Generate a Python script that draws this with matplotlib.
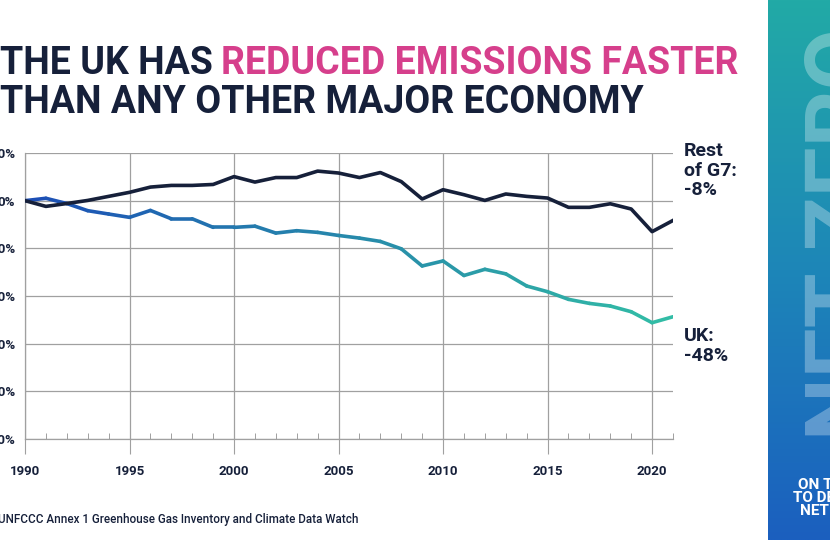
import numpy as np
import matplotlib
matplotlib.use("Agg")
import matplotlib.pyplot as plt
from matplotlib.collections import LineCollection
from matplotlib.colors import LinearSegmentedColormap
from matplotlib.ticker import MultipleLocator, FuncFormatter

# % change in greenhouse gas emissions since 1990
years = list(range(1990, 2022))
rest_g7 = [0, -2.4, -1.2, 0.1, 1.8, 3.5, 5.7, 6.4, 6.4, 6.8, 10.1, 7.8, 9.7, 9.7, 12.4, 11.6,
           9.7, 11.8, 8.0, 0.7, 4.6, 2.5, 0.1, 2.8, 1.8, 1.1, -2.8, -2.8, -1.3, -3.5, -13.0, -8.3]
uk = [0, 1.0, -1.2, -4.2, -5.6, -7.0, -4.1, -7.6, -7.6, -11.2, -11.2, -10.7, -13.6, -12.6, -13.3, -14.6,
      -15.7, -17.1, -20.2, -27.4, -25.3, -31.4, -28.8, -30.7, -35.8, -38.2, -41.4, -43.1, -44.2, -46.6, -51.2, -48.7]
y_ticks = [20, 0, -20, -40, -60, -80, -100]
x_ticks = [1990, 1995, 2000, 2005, 2010, 2015, 2020]

navy = "#16203a"
pink = "#d63f8c"
grid_c = "#a0a0a0"
font = "Roboto"

fig = plt.figure(figsize=(8.3, 5.4), dpi=100)
fig.patch.set_facecolor("white")

ax = fig.add_axes([25 / 830, 1 - 439 / 540, (673 - 25) / 830, (439 - 153) / 540])
ax.set_xlim(1990, 2021)
ax.set_ylim(-100, 20)

ax.plot(years, rest_g7, color=navy, lw=2.6, solid_joinstyle="round", zorder=4)

# UK line with blue -> teal gradient
pts = np.column_stack([years, uk]).reshape(-1, 1, 2)
segs = np.concatenate([pts[:-1], pts[1:]], axis=1)
cmap = LinearSegmentedColormap.from_list("uk", ["#1c4fb6", "#2379ae", "#2a98a8", "#32bca6"])
lc = LineCollection(segs, cmap=cmap, linewidth=2.6, capstyle="round", joinstyle="round", zorder=3)
lc.set_array(np.array(years[:-1], dtype=float))
ax.add_collection(lc)

ax.set_yticks(y_ticks)
ax.set_xticks(x_ticks)
ax.xaxis.set_minor_locator(MultipleLocator(1))
ax.yaxis.set_major_formatter(FuncFormatter(lambda v, p: f"{int(v)}%"))
ax.grid(True, color=grid_c, lw=0.9)
for s in ["top", "right"]:
    ax.spines[s].set_visible(False)
for s in ["left", "bottom"]:
    ax.spines[s].set_color(grid_c)
    ax.spines[s].set_linewidth(0.9)
ax.tick_params(axis="x", which="major", direction="out", length=11, color=grid_c, pad=8,
               labelsize=9.5, labelcolor=navy)
ax.tick_params(axis="x", which="minor", direction="in", length=4, color=grid_c, width=0.7)
ax.tick_params(axis="y", length=0, pad=7, labelsize=9.5, labelcolor=navy)
for lab in ax.get_xticklabels() + ax.get_yticklabels():
    lab.set_fontweight("bold")
    lab.set_family(font)

# end labels
fig.text(684 / 830, 1 - 142 / 540, "Rest\nof G7:\n-8%", ha="left", va="top", fontsize=14,
         fontweight="bold", color=navy, family=font, linespacing=1.12)
fig.text(684 / 830, 1 - 327 / 540, "UK:\n-48%", ha="left", va="top", fontsize=14,
         fontweight="bold", color=navy, family=font, linespacing=1.12)

# title
t1 = fig.text(0.0, 1 - 74 / 540, "THE UK HAS", ha="left", va="baseline", fontsize=27,
              fontweight="bold", color=navy, family=font)
ax.annotate("REDUCED EMISSIONS FASTER", xy=(1, 0), xycoords=t1, xytext=(6, 0),
            textcoords="offset points", ha="left", va="bottom", fontsize=27,
            fontweight="bold", color=pink, family=font, annotation_clip=False)
fig.text(0.0, 1 - 113 / 540, "THAN ANY OTHER MAJOR ECONOMY", ha="left", va="baseline",
         fontsize=27, fontweight="bold", color=navy, family=font)

fig.text(-0.002, 1 - 519 / 540, "UNFCCC Annex 1 Greenhouse Gas Inventory and Climate Data Watch",
         ha="left", va="center", fontsize=8.4, color=navy, family=font, fontweight="medium")

# side banner
bax = fig.add_axes([768 / 830, 0, 62 / 830, 1])
bcmap = LinearSegmentedColormap.from_list("banner", ["#22aaa6", "#1d86b8", "#1b5fbf"])
bax.imshow(np.linspace(0, 1, 256).reshape(-1, 1), aspect="auto", cmap=bcmap,
           extent=[0, 1, 0, 1])
bax.set_xlim(0, 1)
bax.set_ylim(0, 1)
bax.axis("off")
bax.text(0.55, 1 - 440 / 540, "NET ZERO", rotation=90, ha="left", va="top",
         rotation_mode="anchor", fontsize=64, fontweight="bold", color="white", alpha=0.3,
         family=font, clip_on=True)
bax.text(1.08, 1 - 498 / 540, "ON TRACK\nTO DELIVER\nNET ZERO", ha="center", va="center",
         fontsize=11, fontweight="bold", color="white", family=font, linespacing=0.95)

fig.savefig("out.png", dpi=100)
